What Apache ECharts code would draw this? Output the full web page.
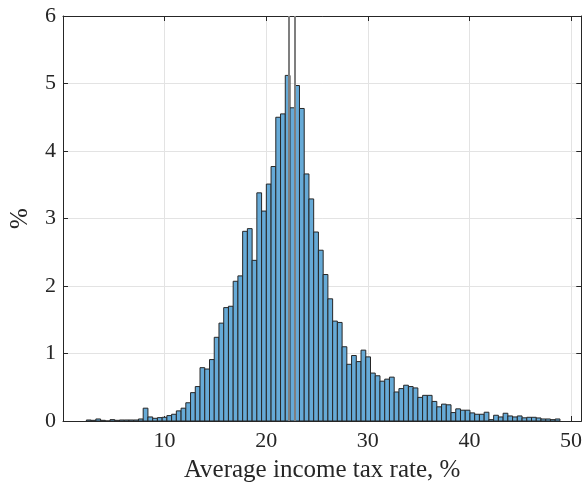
<!DOCTYPE html>
<html>
<head>
<meta charset="utf-8">
<script src="https://cdn.jsdelivr.net/npm/echarts@6/dist/echarts.min.js"></script>
<style>
  html, body { margin: 0; padding: 0; background: #fff; }
  #chart { width: 585px; height: 488px; }
</style>
</head>
<body>
<div id="chart"></div>
<script>
// histogram bins: first edge and width (100 bins)
const binStart = 2.3;
const binWidth = 0.466;

// share of observations per bin, %
const binPct = [
  0.015, 0.01, 0.03, 0.01, 0, 0.02, 0.01, 0.015, 0.015, 0.015,
  0.015, 0.03, 0.19, 0.06, 0.04, 0.05, 0.055, 0.08, 0.10, 0.15,
  0.19, 0.27, 0.42, 0.51, 0.79, 0.77, 0.91, 1.24, 1.45, 1.68,
  1.70, 2.07, 2.15, 2.81, 2.85, 2.38, 3.38, 3.11, 3.51, 3.77,
  4.50, 4.55, 5.12, 4.64, 4.97, 4.63, 3.66, 3.29, 2.80, 2.53,
  2.17, 1.81, 1.48, 1.46, 1.10, 0.84, 0.97, 0.88, 1.05, 0.95,
  0.71, 0.67, 0.59, 0.62, 0.65, 0.43, 0.48, 0.53, 0.51, 0.49,
  0.35, 0.38, 0.38, 0.29, 0.21, 0.25, 0.24, 0.125, 0.18, 0.16,
  0.16, 0.12, 0.10, 0.10, 0.13, 0.02, 0.085, 0.06, 0.115, 0.075,
  0.06, 0.075, 0.047, 0.055, 0.055, 0.045, 0.03, 0.03, 0.02, 0.03
];

// vertical reference lines (gray)
const refLines = [22.26, 22.84];

const xLabel = 'Average income tax rate, %';
const yLabel = '%';

const font = '"Liberation Serif", "DejaVu Serif", serif';
const axisColor = '#262626';
const gridColor = '#e3e3e3';

const histData = binPct.map((v, i) => [
  binStart + i * binWidth,
  binStart + (i + 1) * binWidth,
  v
]);

const chart = echarts.init(document.getElementById('chart'), null, { renderer: 'canvas' });

const tickStyle = { show: true, inside: true, length: 5, lineStyle: { color: axisColor } };

const option = {
  animation: false,
  backgroundColor: '#fff',
  grid: { left: 57, right: 1, top: 16, bottom: 65, containLabel: false },
  xAxis: [
    {
      type: 'value',
      min: 0,
      max: 51,
      interval: 10,
      position: 'bottom',
      name: xLabel,
      nameLocation: 'middle',
      nameGap: 37,
      nameTextStyle: { fontFamily: font, fontSize: 25, color: axisColor },
      axisLine: { show: true, onZero: false, lineStyle: { color: axisColor } },
      axisTick: tickStyle,
      axisLabel: {
        fontFamily: font, fontSize: 22, color: axisColor, margin: 9,
        showMinLabel: false, showMaxLabel: false
      },
      splitLine: { show: true, lineStyle: { color: gridColor } }
    },
    {
      type: 'value',
      min: 0,
      max: 51,
      interval: 10,
      position: 'top',
      axisLine: { show: true, onZero: false, lineStyle: { color: axisColor } },
      axisTick: tickStyle,
      axisLabel: { show: false },
      splitLine: { show: false }
    }
  ],
  yAxis: [
    {
      type: 'value',
      min: 0,
      max: 6,
      interval: 1,
      position: 'left',
      name: yLabel,
      nameLocation: 'middle',
      nameGap: 30,
      nameRotate: 90,
      nameTextStyle: { fontFamily: font, fontSize: 25, color: axisColor },
      axisLine: { show: true, onZero: false, lineStyle: { color: axisColor } },
      axisTick: tickStyle,
      axisLabel: { fontFamily: font, fontSize: 22, color: axisColor, margin: 7 },
      splitLine: { show: true, lineStyle: { color: gridColor } }
    },
    {
      type: 'value',
      min: 0,
      max: 6,
      interval: 1,
      position: 'right',
      axisLine: { show: true, onZero: false, lineStyle: { color: axisColor } },
      axisTick: tickStyle,
      axisLabel: { show: false },
      splitLine: { show: false }
    }
  ],
  series: [
    {
      type: 'custom',
      xAxisIndex: 0,
      yAxisIndex: 0,
      encode: { x: [0, 1], y: 2 },
      data: histData,
      renderItem: (params, api) => {
        const p0 = api.coord([api.value(0), api.value(2)]);
        const p1 = api.coord([api.value(1), 0]);
        return {
          type: 'rect',
          shape: { x: p0[0], y: p0[1], width: p1[0] - p0[0], height: p1[1] - p0[1] },
          style: { fill: '#66aad7', stroke: '#262626', lineWidth: 1 }
        };
      }
    },
    {
      type: 'line',
      data: [],
      markLine: {
        silent: true,
        symbol: ['none', 'none'],
        label: { show: false },
        lineStyle: { color: '#7f7f7f', width: 2, type: 'solid' },
        data: refLines.map(v => ({ xAxis: v }))
      }
    }
  ]
};

chart.setOption(option);
</script>
</body>
</html>
